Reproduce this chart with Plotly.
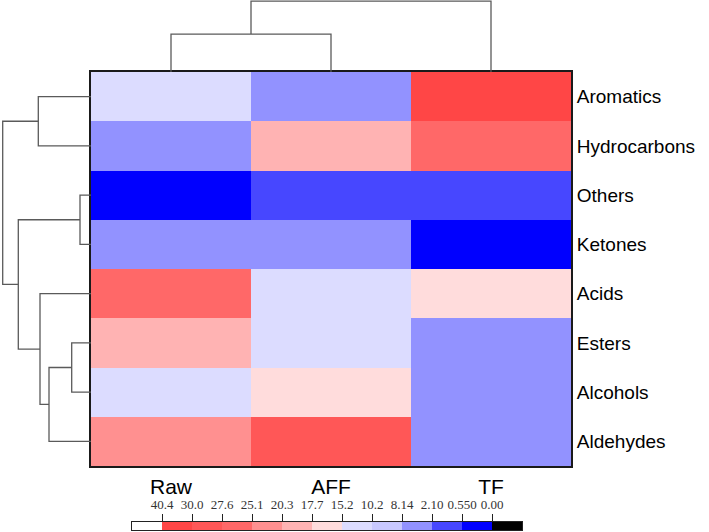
import plotly.graph_objects as go

# ---------------- data ----------------
columns = ["Raw", "AFF", "TF"]
rows = ["Aromatics", "Hydrocarbons", "Others", "Ketones",
        "Acids", "Esters", "Alcohols", "Aldehydes"]

raw = [12.5, 5.3, 0.30, 4.6, 25.6, 18.9, 11.4, 21.3]
aff = [4.2, 18.6, 1.2, 5.8, 12.1, 13.4, 16.3, 28.4]
tf = [36.8, 26.4, 1.5, 0.2, 16.5, 6.1, 5.4, 7.1]

breaks = [40.4, 30.0, 27.6, 25.1, 20.3, 17.7, 15.2, 10.2, 8.14, 2.10, 0.550, 0.00]
break_labels = ["40.4", "30.0", "27.6", "25.1", "20.3", "17.7", "15.2",
                "10.2", "8.14", "2.10", "0.550", "0.00"]
bin_colors = ["#FFFFFF", "#FF4646", "#FF5757", "#FF6868", "#FF9090", "#FFB3B3",
              "#FFDCDC", "#DCDCFF", "#C8C8FF", "#9292FF", "#4747FF", "#0000FF",
              "#000000"]

# dendrogram linkages: (cluster a, cluster b, merge distance)
col_linkage = [(0, 1, 38.0), (3, 2, 71.0)]
row_linkage = [(2, 3, 11.0), (5, 6, 19.3), (9, 7, 42.0), (4, 10, 51.0),
               (0, 1, 52.7), (8, 11, 72.7), (12, 13, 88.3)]

# ---------------- helpers ----------------
def to_bin(v):
    return sum(1 for b in breaks if b > v)

def dendro(linkage, n):
    pos = list(range(n))
    hgt = [0.0] * n
    p, h = [], []
    for a, b, d in linkage:
        pa, pb, ha, hb = pos[a], pos[b], hgt[a], hgt[b]
        p += [pa, pa, pb, pb, None]
        h += [ha, d, d, hb, None]
        pos.append((pa + pb) / 2)
        hgt.append(d)
    return p, h

nb = len(bin_colors)
colorscale = []
for k, c in enumerate(bin_colors):
    colorscale.append([k / nb, c])
    colorscale.append([(k + 1) / nb, c])

values = [list(r) for r in zip(raw, aff, tf)]
zbins = [[to_bin(v) for v in r] for r in values]

W, H = 709, 532
hx0, hx1, hy0, hy1 = 91, 571, 72, 466
dx = [hx0 / W, hx1 / W]
dy = [1 - hy1 / H, 1 - hy0 / H]

fig = go.Figure()

fig.add_trace(go.Heatmap(
    z=zbins, x=list(range(len(columns))), y=list(range(len(rows))),
    customdata=values, hovertemplate="%{customdata:.2f}<extra></extra>",
    colorscale=colorscale, zmin=-0.5, zmax=nb - 0.5, showscale=False,
    xaxis="x", yaxis="y"))

cp, ch = dendro(col_linkage, len(columns))
fig.add_trace(go.Scatter(x=cp, y=ch, mode="lines",
                         line=dict(color="#5a5a5a", width=1.3),
                         hoverinfo="skip", xaxis="x2", yaxis="y2"))

rp, rh = dendro(row_linkage, len(rows))
fig.add_trace(go.Scatter(x=rh, y=rp, mode="lines",
                         line=dict(color="#5a5a5a", width=1.3),
                         hoverinfo="skip", xaxis="x3", yaxis="y3"))

fig.add_trace(go.Heatmap(
    z=[list(range(nb))], x=list(range(nb)), y=[0],
    colorscale=colorscale, zmin=-0.5, zmax=nb - 0.5, showscale=False,
    hoverinfo="skip", xaxis="x4", yaxis="y4"))

hidden = dict(visible=False, showgrid=False, zeroline=False)

fig.update_layout(
    width=W, height=H, margin=dict(l=0, r=0, t=0, b=0, autoexpand=False),
    paper_bgcolor="white", plot_bgcolor="white", showlegend=False,
    font=dict(family="Liberation Sans, Arial, sans-serif", color="black"),
    xaxis=dict(domain=dx, range=[-0.5, 2.5], tickvals=[0, 1, 2], ticktext=columns,
               tickfont=dict(size=21, family="Liberation Sans, Arial"), ticks="",
               ticklabelstandoff=1, automargin=False,
               showline=True, mirror=True, linecolor="#1a1a1a", linewidth=2,
               showgrid=False, zeroline=False, fixedrange=True),
    yaxis=dict(domain=dy, range=[7.5, -0.5], tickvals=list(range(8)), ticktext=rows,
               side="right", tickfont=dict(size=19, family="Liberation Sans, Arial"),
               ticks="", ticklabelstandoff=0, automargin=False,
               showline=True, mirror=True, linecolor="#1a1a1a", linewidth=2,
               showgrid=False, zeroline=False, fixedrange=True),
    xaxis2=dict(domain=dx, range=[-0.5, 2.5], anchor="y2", **hidden),
    yaxis2=dict(domain=[dy[1], 1.0], range=[0, 72.2], anchor="x2", **hidden),
    xaxis3=dict(domain=[0, dx[0]], range=[hx0, 0], anchor="y3", **hidden),
    yaxis3=dict(domain=dy, range=[7.5, -0.5], anchor="x3", **hidden),
    xaxis4=dict(domain=[132 / W, 522 / W], range=[-0.5, nb - 0.5], anchor="y4",
                side="top", tickvals=[k + 0.5 for k in range(nb - 1)],
                ticktext=break_labels, ticks="outside", ticklen=7, tickwidth=1,
                tickcolor="#222", tickangle=0, automargin=False, ticklabelstandoff=0,
                tickfont=dict(size=13, family="Liberation Serif, serif", color="#333"),
                showline=True, mirror=True, linecolor="#222", linewidth=1,
                showgrid=False, zeroline=False, fixedrange=True),
    yaxis4=dict(domain=[1 - 530 / H, 1 - 522 / H], range=[-0.5, 0.5], anchor="x4",
                showticklabels=False, ticks="", showline=True, mirror=True,
                linecolor="#222", linewidth=1, showgrid=False, zeroline=False,
                fixedrange=True, automargin=False),
)

fig.write_html("out.html", config={"displayModeBar": False},
               post_script="document.body.style.margin='0';document.body.style.padding='0';")
